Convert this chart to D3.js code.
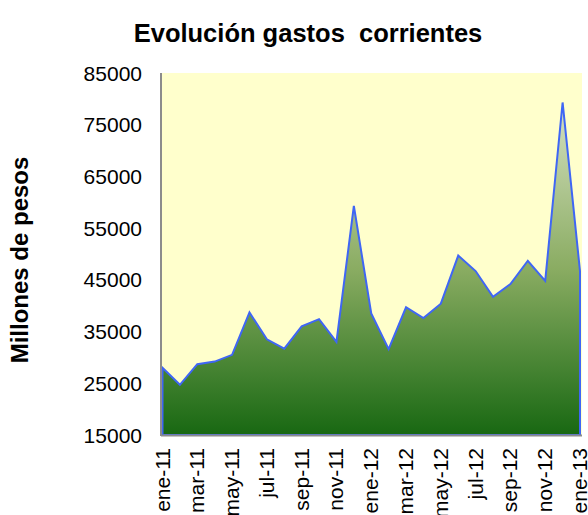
<!DOCTYPE html>
<html>
<head>
<meta charset="utf-8">
<script src="https://cdn.jsdelivr.net/npm/d3@7/dist/d3.min.js"></script>
<style>
  body { margin: 0; background: #fff; }
  svg { display: block; font-family: "Liberation Sans", Arial, sans-serif; }
</style>
</head>
<body>
<svg id="chart" width="588" height="515"></svg>
<script>
// meses ene-11 ... ene-13
var months = ['ene-11', 'feb-11', 'mar-11', 'abr-11', 'may-11', 'jun-11', 'jul-11', 'ago-11',
  'sep-11', 'oct-11', 'nov-11', 'dic-11', 'ene-12', 'feb-12', 'mar-12', 'abr-12', 'may-12',
  'jun-12', 'jul-12', 'ago-12', 'sep-12', 'oct-12', 'nov-12', 'dic-12', 'ene-13'];

// gastos corrientes, millones de pesos
var gastos = [28000, 24700, 28700, 29200, 30500, 38700, 33500, 31700, 36000, 37400, 33000, 59300,
  38500, 31600, 39700, 37600, 40400, 49700, 46700, 41700, 44200, 48700, 44800, 79300, 46700];

var yTicks = [15000, 25000, 35000, 45000, 55000, 65000, 75000, 85000];
// solo cada dos meses lleva etiqueta
var xTickLabels = months.filter(function(d, i) { return i % 2 === 0; });

var svg = d3.select('#chart');

var plot = {left: 161, right: 582, top: 73, bottom: 435};

var x = d3.scaleLinear().domain([0, months.length - 1]).range([162.5, 580]);
var y = d3.scaleLinear().domain([15000, 85000]).range([plot.bottom, plot.top]);

// degradado verde del area
var grad = svg.append('defs').append('linearGradient')
  .attr('id', 'verde')
  .attr('gradientUnits', 'userSpaceOnUse')
  .attr('x1', 0).attr('x2', 0)
  .attr('y1', plot.bottom).attr('y2', y(d3.max(gastos)));
grad.append('stop').attr('offset', '0').attr('stop-color', '#186812');
grad.append('stop').attr('offset', '0.5').attr('stop-color', '#8aac62');
grad.append('stop').attr('offset', '1').attr('stop-color', '#d6e1c2');

// fondo amarillo
svg.append('rect')
  .attr('x', plot.left).attr('y', plot.top)
  .attr('width', plot.right - plot.left)
  .attr('height', plot.bottom - plot.top)
  .attr('fill', '#ffffcc');

var area = d3.area()
  .x(function(d, i) { return x(i); })
  .y0(plot.bottom)
  .y1(function(d) { return y(d); });

svg.append('path')
  .datum(gastos)
  .attr('d', area)
  .attr('fill', 'url(#verde)')
  .attr('stroke', '#3f66f5')
  .attr('stroke-width', 2)
  .attr('stroke-linejoin', 'miter');

// ejes (solo lineas, sin marcas)
svg.append('line')
  .attr('x1', plot.left).attr('x2', plot.left)
  .attr('y1', plot.top).attr('y2', plot.bottom + 1)
  .attr('stroke', '#8c8c8c').attr('stroke-width', 2);
svg.append('line')
  .attr('x1', plot.left).attr('x2', plot.right)
  .attr('y1', plot.bottom + 0.5).attr('y2', plot.bottom + 0.5)
  .attr('stroke', '#8c8c8c').attr('stroke-width', 2);

// etiquetas eje y
svg.append('g').selectAll('text')
  .data(yTicks)
  .enter().append('text')
  .attr('x', 142)
  .attr('y', function(d) { return y(d); })
  .attr('dy', '0.36em')
  .attr('text-anchor', 'end')
  .attr('font-size', 21)
  .attr('fill', '#000')
  .text(function(d) { return d; });

// etiquetas eje x, giradas
svg.append('g').selectAll('text')
  .data(xTickLabels)
  .enter().append('text')
  .attr('transform', function(d) {
    return 'translate(' + (x(months.indexOf(d)) + 7) + ',448) rotate(-90)';
  })
  .attr('text-anchor', 'end')
  .attr('font-size', 21)
  .attr('fill', '#000')
  .text(function(d) { return d; });

// titulo
svg.append('text')
  .attr('x', 308).attr('y', 41.5)
  .attr('text-anchor', 'middle')
  .attr('font-size', 25.5)
  .attr('font-weight', 'bold')
  .attr('xml:space', 'preserve')
  .style('white-space', 'pre')
  .text('Evolución gastos  corrientes');

// titulo eje y
svg.append('text')
  .attr('transform', 'translate(28,260) rotate(-90)')
  .attr('text-anchor', 'middle')
  .attr('font-size', 24)
  .attr('font-weight', 'bold')
  .text('Millones de pesos');
</script>
</body>
</html>
